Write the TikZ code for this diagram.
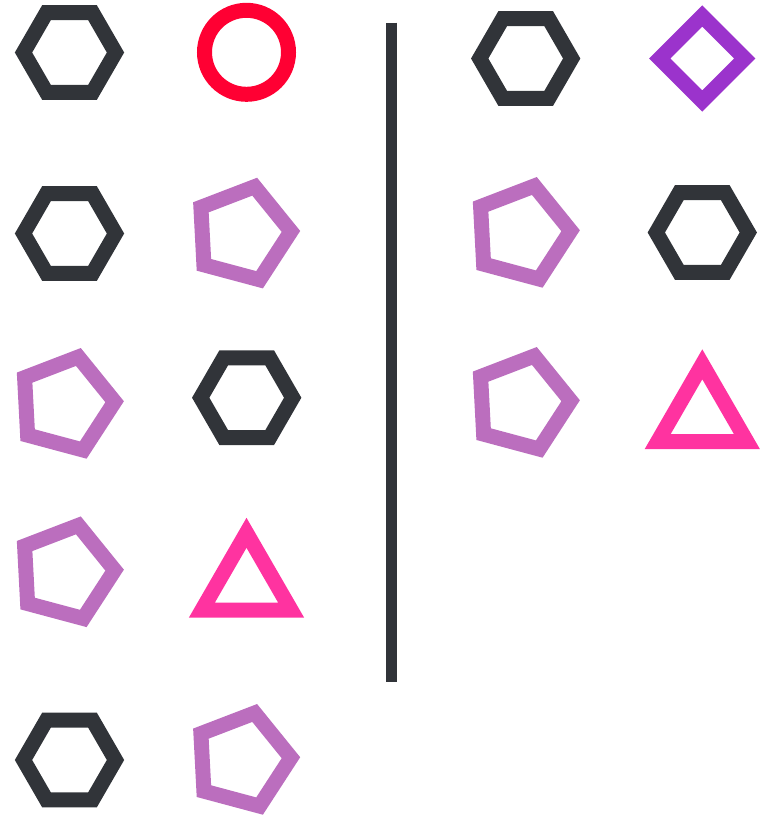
\documentclass[tikz,border=0pt]{standalone}
\usepackage{tikz}
\usetikzlibrary{shapes.geometric}
\definecolor{slate}{HTML}{313439}
\definecolor{alarmred}{HTML}{FF0033}
\definecolor{orchid}{HTML}{BB6EBE}
\definecolor{hotpink}{HTML}{FF33A0}
\definecolor{violet}{HTML}{9B33CC}
\tikzset{
    shp/.style={draw, line width=15pt, inner sep=0pt, outer sep=0pt},
    hexa/.style={shp, slate, regular polygon, regular polygon sides=6, minimum size=92pt},
    penta/.style={shp, orchid, regular polygon, regular polygon sides=5, rotate=-15, minimum size=98pt},
    tri/.style={shp, hotpink, regular polygon, regular polygon sides=3, minimum size=103pt},
    rhomb/.style={shp, violet, regular polygon, regular polygon sides=4, rotate=45, minimum size=85pt},
    ring/.style={shp, alarmred, circle, minimum size=84pt},
    divider/.style={slate, line width=10.5pt},
}
\begin{document}
\begin{tikzpicture}[x=1pt, y=-1pt]
    \useasboundingbox (0,0) rectangle (761,815);
    % left group
    \node[hexa]  (l11) at (69.5, 52.5)  {};
    \node[ring]  (l12) at (246.5, 52.3) {};
    \node[hexa]  (l21) at (69.5, 233.5) {};
    \node[penta] (l22) at (242, 234)    {};
    \node[penta] (l31) at (65.7, 404.3) {};
    \node[hexa]  (l32) at (246.7, 397.7) {};
    \node[penta] (l41) at (65.7, 572.7) {};
    \node[tri]   (l42) at (246.5, 584.3) {};
    \node[hexa]  (l51) at (69.5, 760)   {};
    \node[penta] (l52) at (242, 760.3)  {};
    % separator
    \coordinate (sepTop) at (391.3, 22.7);
    \coordinate (sepBot) at (391.3, 681.7);
    \draw[divider] (sepTop) -- (sepBot);
    % right group
    \node[hexa]  (r11) at (525.7, 58.5) {};
    \node[rhomb] (r12) at (702.3, 58.5) {};
    \node[penta] (r21) at (521.7, 233.3) {};
    \node[hexa]  (r22) at (702.3, 232.5) {};
    \node[penta] (r31) at (521.7, 403.3) {};
    \node[tri]   (r32) at (702.3, 415.8) {};
\end{tikzpicture}
\end{document}
